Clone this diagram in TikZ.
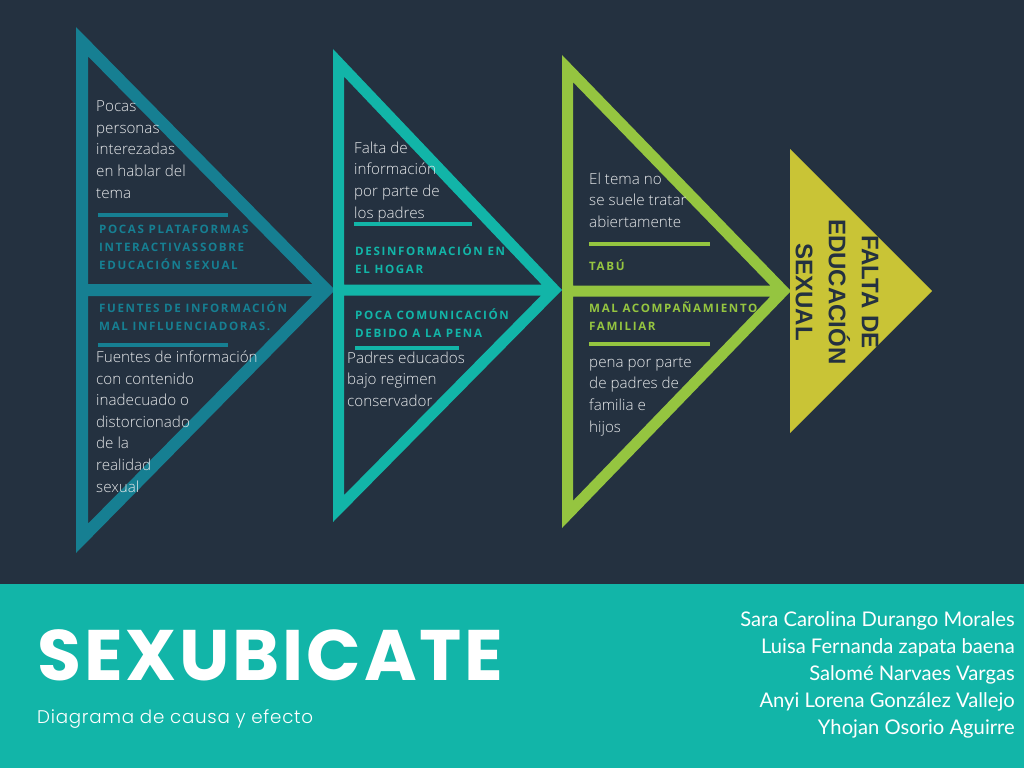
\documentclass[tikz,border=0pt]{standalone}
\usepackage{fontspec}
\IfFontExistsTF{Open Sans Light}{\newfontfamily\bodyfont{Open Sans Light}}{\newfontfamily\bodyfont{Open Sans}}
\newfontfamily\headfont{Open Sans}[LetterSpace=14]
\newfontfamily\titlefont{Poppins}[LetterSpace=4]
\IfFontExistsTF{Poppins Light}{\newfontfamily\subfont{Poppins Light}[LetterSpace=4]}{\newfontfamily\subfont{Poppins}[LetterSpace=4]}
\newfontfamily\namefont{Lato}
\newfontfamily\effectfont{Liberation Sans}
\definecolor{bg}{HTML}{243140}
\definecolor{cone}{HTML}{167F92}
\definecolor{ctwo}{HTML}{12B5A8}
\definecolor{cthree}{HTML}{95C540}
\definecolor{cfour}{HTML}{C9C436}
\definecolor{bodytext}{HTML}{E6E8EA}
\newcommand\chevshape[8]{%
 \pgfmathsetmacro\mA{(#5-#2)/(#4-#1)}%
 \pgfmathsetmacro\mB{(#3-#5)/(#4-#1)}%
 \pgfmathsetmacro\yTi{#2+\mA*#6+#6*sqrt(1+\mA*\mA)}%
 \pgfmathsetmacro\xTi{#1+(#5-#7/2-#2-#6*sqrt(1+\mA*\mA))/\mA}%
 \pgfmathsetmacro\yBi{#3-\mB*#6-#6*sqrt(1+\mB*\mB)}%
 \pgfmathsetmacro\xBi{#1+(#3-#6*sqrt(1+\mB*\mB)-#5-#7/2)/\mB}%
 \fill[#8,even odd rule] (#1,#2) -- (#4,#5) -- (#1,#3) -- cycle
   (#1+#6,\yTi) -- (\xTi,#5-#7/2) -- (#1+#6,#5-#7/2) -- cycle
   (#1+#6,\yBi) -- (\xBi,#5+#7/2) -- (#1+#6,#5+#7/2) -- cycle;
}
% multi-line nodes are placed by the baseline of their LAST line
\tikzset{
  body/.style={anchor=base west, inner sep=0pt, align=left, text=bodytext,
    font=\bodyfont\fontsize{15.2}{21.6}\selectfont},
  head/.style={anchor=base west, inner sep=0pt, align=left,
    font=\headfont\bfseries\fontsize{11.6}{18}\selectfont},
  bar/.style={line width=4pt},
}
\begin{document}
\begin{tikzpicture}[x=1pt,y=-1pt]
\useasboundingbox (0,0) rectangle (1024,768);
\fill[bg] (0,0) rectangle (1024,584);
\fill[ctwo] (0,584) rectangle (1024,768);
% chevrons
\chevshape{76}{27}{553}{335}{290}{12}{12}{cone}
\chevshape{333}{49}{522}{562}{290}{11}{11}{ctwo}
\chevshape{562}{55}{528}{791}{291}{11}{11}{cthree}
\fill[cfour] (790,149) -- (932,291) -- (790,433) -- cycle;
\node[rotate=-90, align=center, inner sep=0pt, text=bg,
  font=\effectfont\bfseries\fontsize{24}{33}\selectfont] (effect) at (837,292)
  {FALTA DE\\EDUCACIÓN\\SEXUAL};
% triangle 1
\node[body] (b1a) at (96,198) {Pocas\\personas\\interezadas\\en hablar del\\tema};
\draw[bar,cone] (98,215) -- (228,215);
\node[head,text=cone] (h1a) at (99,269.5) {POCAS PLATAFORMAS\\INTERACTIVASSOBRE\\EDUCACIÓN SEXUAL};
\node[head,text=cone] (h1b) at (99,330) {FUENTES DE INFORMACIÓN\\MAL INFLUENCIADORAS.};
\draw[bar,cone] (98,344.5) -- (228,344.5);
\node[body] (b1b) at (96,492) {Fuentes de información\\con contenido\\inadecuado o\\distorcionado\\de la\\realidad\\sexual};
% triangle 2
\node[body] (b2a) at (354,218) {Falta de\\información\\por parte de\\los padres};
\draw[bar,ctwo] (354,224) -- (472,224);
\node[head,text=ctwo] (h2a) at (355,273.5) {DESINFORMACIÓN EN\\EL HOGAR};
\node[head,text=ctwo] (h2b) at (355,337) {POCA COMUNICACIÓN\\DEBIDO A LA PENA};
\draw[bar,ctwo,line width=3.5pt] (355,348) -- (459,348);
\node[body] (b2b) at (347,406.5) {Padres educados\\bajo regimen\\conservador};
% triangle 3
\node[body] (b3a) at (589,227.5) {El tema no\\se suele tratar\\abiertamente};
\draw[bar,cthree] (589,244) -- (710,244);
\node[head,text=cthree] (h3a) at (589,270) {TABÚ};
\node[head,text=cthree] (h3b) at (589,330) {MAL ACOMPAÑAMIENTO\\FAMILIAR};
\draw[bar,cthree] (589,344) -- (710,344);
\node[body] (b3b) at (589,432) {pena por parte\\de padres de\\familia e\\hijos};
% footer
\node[anchor=base west, inner sep=0pt, text=white,
  font=\titlefont\bfseries\fontsize{71.5}{72}\selectfont] (title) at (37,680) {SEXUBICATE};
\node[anchor=base west, inner sep=0pt, text=white,
  font=\subfont\fontsize{18.3}{19}\selectfont] (subtitle) at (37,723) {Diagrama de causa y efecto};
\node[anchor=base east, inner sep=0pt, align=right, text=white,
  font=\namefont\fontsize{20.2}{26.8}\selectfont] (names) at (1015,734)
  {Sara Carolina Durango Morales\\Luisa Fernanda zapata baena\\Salomé Narvaes Vargas\\Anyi Lorena González Vallejo\\Yhojan Osorio Aguirre};
\end{tikzpicture}
\end{document}
